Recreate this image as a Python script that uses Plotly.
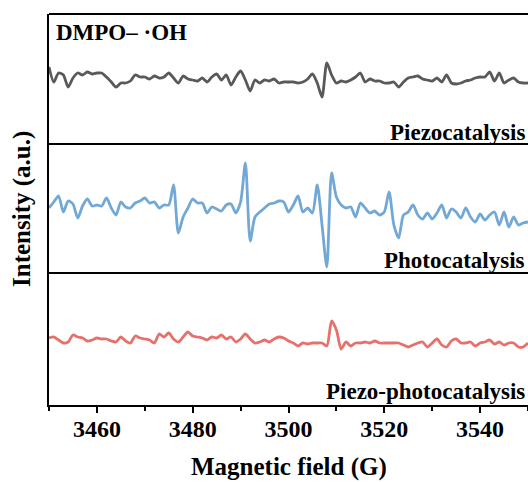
import plotly.graph_objects as go

# Magnetic field axis (G)
field_G = list(range(3450, 3551))

# Intensities (a.u.)
piezo = [13, -2, 7, 5, -7, 2, 7, 5, 8, 6, 7, 7, 3, -2, -7, -3, -3, -1, 5, 3,
         3, 1, 4, 2, 3, 7, 2, -3, 4, 1, 0, -1, 2, -2, 3, 6, 0, 5, -5, 3,
         9, 0, -11, 0, -3, 0, -1, 1, -3, -2,
         -2, -2, -3, -2, 1, 6, -3, -17, 17, 5, -3, -1, -2, 0, 3, 7, -2, 1, -1, -1,
         -3, -3, -2, -7, -2, 2, 3, 4, 1, 0, -1, 2, -2, 5, -3, -4, -3, -1, 0, 2,
         3, 3, 8, -1, 7, -3, 0, 2, -2, -3, -3]

photo = [-3, 3, 9, -7, 4, 1, -13, -1, 6, -1, 0, -1, 7, -3, -10, 3, -2, -3, 2, 4,
         7, 2, 3, -3, 0, 0, 20, -28, -12, -3, 6, 2, 2, -8, -2, -4, -6, 0, 1, -8,
         3, 42, -36, -12, -7, -3, 1, 2, 4, 3,
         -7, 0, 9, -7, -3, -8, 20, -20, -62, 32, 8, 0, -3, -2, -12, 2, -3, -8, -6, -10,
         -7, 13, -20, -33, -10, -7, 0, -10, -14, -8, -14, -8, 0, -13, -4, -7, -13, -3, -12, -17,
         -9, -15, -10, -7, -20, -7, -22, -12, -20, -18, -17]

piezo_photo = [2, 3, 0, -3, -2, 5, 3, 2, -1, 0, 2, 1, 1, -1, -2, 3, -1, -3, 4, 2,
               1, 0, -3, 6, 3, 7, 1, -2, 3, 8, 4, 3, 2, 0, 3, 2, 5, 1, 3, -2,
               1, 6, 1, -3, -2, 0, -2, 1, 3, 2, -1, -3, -6, -3, -4, -3, -3, -3, -6, 19,
               10, -9, -2, -6, -3, -3, -2, -3, -1, -3, -3, -3, -3, -3, -5, -7, -5, -3, -2, -7,
               -3, 1, -5, -7, -1, 1, -3, -3, -2, -6, -3, -2, 0, -4, -2, -5, -3, -3, -7, -7, -3]

x_ticks = [3460, 3480, 3500, 3520, 3540]
x_minor = [3450, 3470, 3490, 3510, 3530, 3550]
panel_labels = ["Piezocatalysis", "Photocatalysis", "Piezo-photocatalysis"]
colors = ["#595959", "#72a8d6", "#e6716c"]

FONT = "Liberation Serif"
PT, PB = 14, 405          # plot area top / bottom in px
PL = 49
PH = PB - PT
PW = 528 - PL

def py(Y):
    return (PB - Y) / PH

def px(X):
    return (X - PL) / PW

fig = go.Figure()
series = [piezo, photo, piezo_photo]
for i, (s, c) in enumerate(zip(series, colors)):
    fig.add_trace(go.Scatter(x=field_G, y=s, mode="lines",
                             yaxis=["y", "y2", "y3"][i],
                             line=dict(color=c, width=2.8, shape="spline", smoothing=0.7),
                             showlegend=False, hoverinfo="skip"))

yax = dict(showline=True, linecolor="black", linewidth=2, ticks="",
           showticklabels=False, showgrid=False, zeroline=False, anchor="x")

fig.update_layout(
    width=528, height=482,
    margin=dict(l=PL, r=0, t=PT, b=482 - PB, pad=0),
    paper_bgcolor="white", plot_bgcolor="white",
    font=dict(family=FONT, color="black"),
    xaxis=dict(range=[3450, 3550], anchor="y3", showline=True, linecolor="black",
               linewidth=2, ticks="outside", ticklen=6, tickwidth=2,
               tickcolor="black", tickmode="array", tickvals=x_ticks,
               ticklabelstandoff=-5,
               tickfont=dict(family=FONT, size=24, weight="bold", color="black"),
               minor=dict(tickmode="array", tickvals=x_minor, ticks="outside",
                          ticklen=4, tickwidth=2, tickcolor="black"),
               showgrid=False, zeroline=False),
    yaxis=dict(domain=[py(144), 1], range=[-64, 66], **yax),
    yaxis2=dict(domain=[py(273), py(144)], range=[-68, 61], **yax),
    yaxis3=dict(domain=[0, py(273)], range=[-65, 67], **yax),
)

for Y in [PT, 144, 273]:
    fig.add_shape(type="line", xref="paper", yref="paper", x0=0, x1=1,
                  y0=py(Y), y1=py(Y), line=dict(color="black", width=2))

ann_font = dict(family=FONT, size=23, color="black")
fig.add_annotation(text="<b>DMPO– ·OH</b>", xref="paper", yref="paper",
                   x=px(54), y=py(32), xanchor="left", yanchor="middle",
                   showarrow=False, font=ann_font)
for lab, Y in zip(panel_labels, [132, 260, 391]):
    fig.add_annotation(text="<b>%s</b>" % lab, xref="paper", yref="paper",
                       x=1, y=py(Y), xanchor="right", yanchor="middle",
                       xshift=-1, showarrow=False, font=ann_font)

fig.add_annotation(text="<b>Intensity (a.u.)</b>", xref="paper", yref="paper",
                   x=px(22), y=py(209), xanchor="center", yanchor="middle",
                   textangle=-90, showarrow=False,
                   font=dict(family=FONT, size=25, color="black"))
fig.add_annotation(text="<b>Magnetic field (G)</b>", xref="paper", yref="paper",
                   x=px(289), y=py(467), xanchor="center", yanchor="middle",
                   showarrow=False, font=dict(family=FONT, size=25, color="black"))

fig.write_html("out.html",
               config={"displayModeBar": False},
               post_script="document.body.style.margin='0';"
                           "document.body.style.overflow='hidden';")
